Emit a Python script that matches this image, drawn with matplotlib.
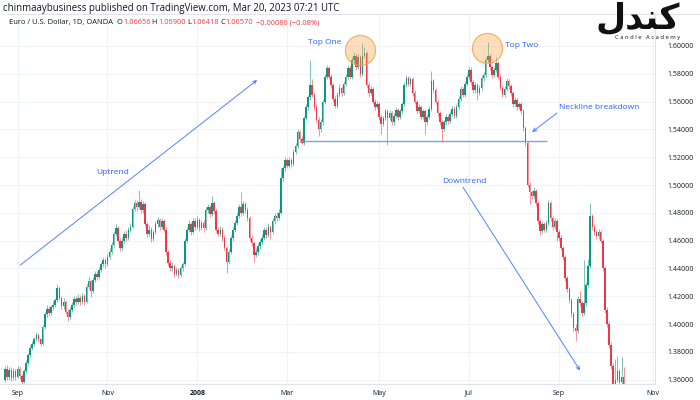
import numpy as np
import matplotlib.pyplot as plt

# EUR/USD daily candles, late Aug 2007 .. mid Oct 2008
opens = [
    1.3595, 1.3680, 1.3620, 1.3670, 1.3610, 1.3660, 1.3620, 1.3680, 1.3625, 1.3585,
    1.3660, 1.3720, 1.3780, 1.3830, 1.3860, 1.3890, 1.3920, 1.3890, 1.3860, 1.3980,
    1.4070, 1.4110, 1.4080, 1.4120, 1.4140, 1.4170, 1.4260, 1.4190, 1.4130, 1.4160,
    1.4090, 1.4050, 1.4100, 1.4140, 1.4180, 1.4160, 1.4190, 1.4160, 1.4200, 1.4160,
    1.4270, 1.4310, 1.4240, 1.4320, 1.4360, 1.4340, 1.4390, 1.4430, 1.4460, 1.4430,
    1.4480, 1.4520, 1.4570, 1.4650, 1.4690, 1.4600, 1.4550, 1.4600, 1.4650, 1.4620,
    1.4680, 1.4700, 1.4830, 1.4870, 1.4840, 1.4880, 1.4820, 1.4860, 1.4720, 1.4650,
    1.4680, 1.4610, 1.4660, 1.4720, 1.4750, 1.4700, 1.4740, 1.4680, 1.4520, 1.4440,
    1.4400, 1.4420, 1.4360, 1.4390, 1.4350, 1.4400, 1.4430, 1.4600, 1.4680, 1.4720,
    1.4660, 1.4740, 1.4700, 1.4750, 1.4690, 1.4730, 1.4690, 1.4820, 1.4840, 1.4790,
    1.4870, 1.4810, 1.4680, 1.4650, 1.4680, 1.4620, 1.4550, 1.4450, 1.4520, 1.4620,
    1.4680, 1.4730, 1.4780, 1.4840, 1.4800, 1.4860, 1.4820, 1.4760, 1.4620, 1.4580,
    1.4500, 1.4520, 1.4560, 1.4590, 1.4620, 1.4680, 1.4640, 1.4700, 1.4660, 1.4740,
    1.4780, 1.4760, 1.4800, 1.5050, 1.5120, 1.5180, 1.5140, 1.5180, 1.5150, 1.5240,
    1.5280, 1.5380, 1.5330, 1.5300, 1.5480, 1.5560, 1.5630, 1.5720, 1.5650, 1.5560,
    1.5470, 1.5400, 1.5450, 1.5600, 1.5780, 1.5840, 1.5780, 1.5720, 1.5620, 1.5570,
    1.5650, 1.5700, 1.5660, 1.5730, 1.5780, 1.5840, 1.5780, 1.5900, 1.5930, 1.5850,
    1.5920, 1.5800, 1.5930, 1.5950, 1.5720, 1.5660, 1.5690, 1.5600, 1.5560, 1.5580,
    1.5490, 1.5440, 1.5480, 1.5530, 1.5480, 1.5520, 1.5450, 1.5500, 1.5540, 1.5490,
    1.5530, 1.5580, 1.5720, 1.5770, 1.5730, 1.5760, 1.5660, 1.5600, 1.5530, 1.5560,
    1.5490, 1.5530, 1.5450, 1.5490, 1.5550, 1.5750, 1.5680, 1.5600, 1.5520, 1.5450,
    1.5400, 1.5450, 1.5490, 1.5460, 1.5510, 1.5550, 1.5500, 1.5560, 1.5620, 1.5690,
    1.5650, 1.5730, 1.5780, 1.5830, 1.5740, 1.5680, 1.5720, 1.5660, 1.5700, 1.5770,
    1.5790, 1.5900, 1.5930, 1.5850, 1.5790, 1.5830, 1.5880, 1.5780, 1.5700, 1.5650,
    1.5690, 1.5750, 1.5710, 1.5660, 1.5580, 1.5610, 1.5560, 1.5580, 1.5530, 1.5410,
    1.5300, 1.5000, 1.4950, 1.4920, 1.4960, 1.4870, 1.4740, 1.4670, 1.4720, 1.4680,
    1.4730, 1.4870, 1.4760, 1.4700, 1.4740, 1.4660, 1.4620, 1.4550, 1.4480, 1.4330,
    1.4250, 1.4170, 1.4070, 1.3970, 1.3950, 1.4180, 1.4150, 1.4080, 1.4150, 1.4280,
    1.4420, 1.4780, 1.4700, 1.4660, 1.4630, 1.4660, 1.4600, 1.4400, 1.4100, 1.4000,
    1.3850, 1.3700, 1.3550, 1.3600, 1.3660, 1.3580, 1.3620,
]
highs = [
    1.3700, 1.3705, 1.3690, 1.3690, 1.3685, 1.3680, 1.3700, 1.3695, 1.3640, 1.3675,
    1.3740, 1.3795, 1.3850, 1.3880, 1.3910, 1.3940, 1.3935, 1.3900, 1.3995, 1.4085,
    1.4135, 1.4130, 1.4140, 1.4165, 1.4190, 1.4285, 1.4275, 1.4205, 1.4185, 1.4175,
    1.4110, 1.4120, 1.4160, 1.4200, 1.4205, 1.4215, 1.4210, 1.4225, 1.4215, 1.4290,
    1.4335, 1.4320, 1.4340, 1.4380, 1.4385, 1.4410, 1.4450, 1.4485, 1.4475, 1.4505,
    1.4545, 1.4590, 1.4670, 1.4720, 1.4705, 1.4620, 1.4625, 1.4670, 1.4675, 1.4700,
    1.4725, 1.4850, 1.4895, 1.4890, 1.4966, 1.4900, 1.4885, 1.4875, 1.4735, 1.4710,
    1.4695, 1.4680, 1.4740, 1.4770, 1.4765, 1.4760, 1.4755, 1.4695, 1.4535, 1.4460,
    1.4445, 1.4435, 1.4410, 1.4405, 1.4420, 1.4450, 1.4620, 1.4700, 1.4745, 1.4735,
    1.4765, 1.4760, 1.4775, 1.4765, 1.4750, 1.4745, 1.4840, 1.4865, 1.4855, 1.4920,
    1.4885, 1.4825, 1.4700, 1.4705, 1.4695, 1.4640, 1.4565, 1.4540, 1.4640, 1.4700,
    1.4750, 1.4805, 1.4860, 1.4950, 1.4885, 1.4875, 1.4840, 1.4775, 1.4640, 1.4595,
    1.4545, 1.4580, 1.4610, 1.4645, 1.4700, 1.4695, 1.4725, 1.4715, 1.4760, 1.4800,
    1.4805, 1.4825, 1.5120, 1.5140, 1.5200, 1.5195, 1.5205, 1.5195, 1.5260, 1.5305,
    1.5400, 1.5395, 1.5350, 1.5500, 1.5580, 1.5650, 1.5900, 1.5760, 1.5670, 1.5580,
    1.5490, 1.5475, 1.5620, 1.5800, 1.5860, 1.5855, 1.5800, 1.5735, 1.5640, 1.5670,
    1.5725, 1.5715, 1.5750, 1.5800, 1.5860, 1.5855, 1.5920, 1.5955, 1.5945, 1.5940,
    1.5935, 1.6020, 1.5990, 1.5965, 1.5740, 1.5715, 1.5705, 1.5620, 1.5605, 1.5595,
    1.5510, 1.5500, 1.5550, 1.5545, 1.5540, 1.5535, 1.5520, 1.5560, 1.5555, 1.5550,
    1.5600, 1.5740, 1.5790, 1.5785, 1.5780, 1.5775, 1.5680, 1.5615, 1.5580, 1.5575,
    1.5550, 1.5545, 1.5510, 1.5570, 1.5820, 1.5765, 1.5695, 1.5615, 1.5535, 1.5470,
    1.5470, 1.5510, 1.5505, 1.5530, 1.5570, 1.5565, 1.5580, 1.5640, 1.5710, 1.5705,
    1.5750, 1.5800, 1.5850, 1.5850, 1.5755, 1.5740, 1.5735, 1.5720, 1.5790, 1.5815,
    1.5920, 1.6030, 1.5945, 1.5865, 1.5850, 1.5920, 1.5895, 1.5795, 1.5715, 1.5710,
    1.5770, 1.5765, 1.5725, 1.5675, 1.5630, 1.5625, 1.5600, 1.5595, 1.5545, 1.5425,
    1.5315, 1.5020, 1.4965, 1.4985, 1.4975, 1.4885, 1.4755, 1.4740, 1.4735, 1.4750,
    1.4890, 1.4885, 1.4775, 1.4760, 1.4755, 1.4680, 1.4640, 1.4565, 1.4500, 1.4345,
    1.4265, 1.4185, 1.4085, 1.4000, 1.4200, 1.4240, 1.4165, 1.4460, 1.4300, 1.4470,
    1.4870, 1.4795, 1.4720, 1.4675, 1.4685, 1.4675, 1.4615, 1.4420, 1.4120, 1.4020,
    1.3870, 1.3720, 1.3750, 1.3770, 1.3680, 1.3760, 1.3690,
]
lows = [
    1.3580, 1.3600, 1.3600, 1.3590, 1.3595, 1.3600, 1.3610, 1.3605, 1.3570, 1.3575,
    1.3650, 1.3705, 1.3765, 1.3810, 1.3840, 1.3875, 1.3870, 1.3840, 1.3850, 1.3965,
    1.4050, 1.4060, 1.4065, 1.4100, 1.4120, 1.4160, 1.4175, 1.4110, 1.4110, 1.4070,
    1.4025, 1.4035, 1.4085, 1.4125, 1.4140, 1.4145, 1.4140, 1.4145, 1.4135, 1.4150,
    1.4255, 1.4195, 1.4225, 1.4300, 1.4320, 1.4325, 1.4375, 1.4410, 1.4405, 1.4415,
    1.4465, 1.4505, 1.4555, 1.4630, 1.4580, 1.4525, 1.4535, 1.4585, 1.4600, 1.4605,
    1.4660, 1.4690, 1.4810, 1.4815, 1.4825, 1.4800, 1.4800, 1.4705, 1.4625, 1.4630,
    1.4590, 1.4595, 1.4645, 1.4700, 1.4680, 1.4685, 1.4660, 1.4500, 1.4420, 1.4380,
    1.4385, 1.4335, 1.4345, 1.4330, 1.4340, 1.4385, 1.4420, 1.4585, 1.4665, 1.4640,
    1.4645, 1.4680, 1.4685, 1.4670, 1.4675, 1.4665, 1.4680, 1.4800, 1.4770, 1.4775,
    1.4790, 1.4660, 1.4630, 1.4635, 1.4600, 1.4530, 1.4370, 1.4430, 1.4505, 1.4600,
    1.4660, 1.4715, 1.4765, 1.4780, 1.4785, 1.4800, 1.4740, 1.4600, 1.4560, 1.4450,
    1.4480, 1.4500, 1.4540, 1.4575, 1.4605, 1.4620, 1.4625, 1.4610, 1.4645, 1.4720,
    1.4740, 1.4745, 1.4790, 1.5030, 1.5100, 1.5120, 1.5125, 1.5130, 1.5140, 1.5225,
    1.5265, 1.5310, 1.5295, 1.5290, 1.5465, 1.5540, 1.5610, 1.5630, 1.5540, 1.5450,
    1.5350, 1.5380, 1.5435, 1.5585, 1.5765, 1.5760, 1.5700, 1.5600, 1.5555, 1.5555,
    1.5630, 1.5640, 1.5645, 1.5715, 1.5765, 1.5760, 1.5765, 1.5880, 1.5830, 1.5835,
    1.5780, 1.5785, 1.5910, 1.5700, 1.5640, 1.5645, 1.5580, 1.5540, 1.5545, 1.5470,
    1.5370, 1.5425, 1.5465, 1.5290, 1.5465, 1.5430, 1.5435, 1.5485, 1.5470, 1.5475,
    1.5515, 1.5565, 1.5705, 1.5710, 1.5715, 1.5640, 1.5580, 1.5510, 1.5515, 1.5470,
    1.5475, 1.5370, 1.5435, 1.5475, 1.5535, 1.5660, 1.5580, 1.5500, 1.5430, 1.5310,
    1.5385, 1.5435, 1.5440, 1.5445, 1.5495, 1.5480, 1.5485, 1.5545, 1.5605, 1.5630,
    1.5635, 1.5715, 1.5765, 1.5720, 1.5660, 1.5665, 1.5610, 1.5645, 1.5685, 1.5750,
    1.5775, 1.5885, 1.5830, 1.5770, 1.5775, 1.5815, 1.5760, 1.5680, 1.5630, 1.5635,
    1.5675, 1.5690, 1.5640, 1.5560, 1.5565, 1.5540, 1.5545, 1.5510, 1.5390, 1.5280,
    1.4985, 1.4860, 1.4900, 1.4905, 1.4850, 1.4720, 1.4640, 1.4655, 1.4660, 1.4665,
    1.4715, 1.4740, 1.4680, 1.4685, 1.4600, 1.4600, 1.4530, 1.4460, 1.4310, 1.4230,
    1.4150, 1.4050, 1.3950, 1.3880, 1.3935, 1.4130, 1.4060, 1.4065, 1.4130, 1.4265,
    1.4405, 1.4680, 1.4640, 1.4610, 1.4615, 1.4580, 1.4380, 1.4080, 1.3980, 1.3830,
    1.3680, 1.3500, 1.3520, 1.3580, 1.3540, 1.3560, 1.3500,
]
closes = [
    1.3680, 1.3620, 1.3670, 1.3610, 1.3660, 1.3620, 1.3680, 1.3625, 1.3585, 1.3660,
    1.3720, 1.3780, 1.3830, 1.3860, 1.3890, 1.3920, 1.3890, 1.3860, 1.3980, 1.4070,
    1.4110, 1.4080, 1.4120, 1.4140, 1.4170, 1.4260, 1.4190, 1.4130, 1.4160, 1.4090,
    1.4050, 1.4100, 1.4140, 1.4180, 1.4160, 1.4190, 1.4160, 1.4200, 1.4160, 1.4270,
    1.4310, 1.4240, 1.4320, 1.4360, 1.4340, 1.4390, 1.4430, 1.4460, 1.4430, 1.4480,
    1.4520, 1.4570, 1.4650, 1.4690, 1.4600, 1.4550, 1.4600, 1.4650, 1.4620, 1.4680,
    1.4700, 1.4830, 1.4870, 1.4840, 1.4880, 1.4820, 1.4860, 1.4720, 1.4650, 1.4680,
    1.4610, 1.4660, 1.4720, 1.4750, 1.4700, 1.4740, 1.4680, 1.4520, 1.4440, 1.4400,
    1.4420, 1.4360, 1.4390, 1.4350, 1.4400, 1.4430, 1.4600, 1.4680, 1.4720, 1.4660,
    1.4740, 1.4700, 1.4750, 1.4690, 1.4730, 1.4690, 1.4820, 1.4840, 1.4790, 1.4870,
    1.4810, 1.4680, 1.4650, 1.4680, 1.4620, 1.4550, 1.4450, 1.4520, 1.4620, 1.4680,
    1.4730, 1.4780, 1.4840, 1.4800, 1.4860, 1.4820, 1.4760, 1.4620, 1.4580, 1.4500,
    1.4520, 1.4560, 1.4590, 1.4620, 1.4680, 1.4640, 1.4700, 1.4660, 1.4740, 1.4780,
    1.4760, 1.4800, 1.5050, 1.5120, 1.5180, 1.5140, 1.5180, 1.5150, 1.5240, 1.5280,
    1.5380, 1.5330, 1.5300, 1.5480, 1.5560, 1.5630, 1.5720, 1.5650, 1.5560, 1.5470,
    1.5400, 1.5450, 1.5600, 1.5780, 1.5840, 1.5780, 1.5720, 1.5620, 1.5570, 1.5650,
    1.5700, 1.5660, 1.5730, 1.5780, 1.5840, 1.5780, 1.5900, 1.5930, 1.5850, 1.5920,
    1.5800, 1.5930, 1.5950, 1.5720, 1.5660, 1.5690, 1.5600, 1.5560, 1.5580, 1.5490,
    1.5440, 1.5480, 1.5530, 1.5480, 1.5520, 1.5450, 1.5500, 1.5540, 1.5490, 1.5530,
    1.5580, 1.5720, 1.5770, 1.5730, 1.5760, 1.5660, 1.5600, 1.5530, 1.5560, 1.5490,
    1.5530, 1.5450, 1.5490, 1.5550, 1.5750, 1.5680, 1.5600, 1.5520, 1.5450, 1.5400,
    1.5450, 1.5490, 1.5460, 1.5510, 1.5550, 1.5500, 1.5560, 1.5620, 1.5690, 1.5650,
    1.5730, 1.5780, 1.5830, 1.5740, 1.5680, 1.5720, 1.5660, 1.5700, 1.5770, 1.5790,
    1.5900, 1.5930, 1.5850, 1.5790, 1.5830, 1.5880, 1.5780, 1.5700, 1.5650, 1.5690,
    1.5750, 1.5710, 1.5660, 1.5580, 1.5610, 1.5560, 1.5580, 1.5530, 1.5410, 1.5300,
    1.5000, 1.4950, 1.4920, 1.4960, 1.4870, 1.4740, 1.4670, 1.4720, 1.4680, 1.4730,
    1.4870, 1.4760, 1.4700, 1.4740, 1.4660, 1.4620, 1.4550, 1.4480, 1.4330, 1.4250,
    1.4170, 1.4070, 1.3970, 1.3950, 1.4180, 1.4150, 1.4080, 1.4150, 1.4280, 1.4420,
    1.4780, 1.4700, 1.4660, 1.4630, 1.4660, 1.4600, 1.4400, 1.4100, 1.4000, 1.3850,
    1.3700, 1.3550, 1.3600, 1.3660, 1.3580, 1.3620, 1.3550,
]

# x axis month labels (bar index of first trading day)
month_pos = [6, 49, 92, 135, 179, 222, 265, 310]
month_labels = ['Sep', 'Nov', '2008', 'Mar', 'May', 'Jul', 'Sep', 'Nov']
price_ticks = [1.36, 1.38, 1.40, 1.42, 1.44, 1.46, 1.48, 1.50, 1.52, 1.54, 1.56, 1.58, 1.60]

neckline = 1.5316
top_one = (169.9, 1.5971)
top_two = (230.6, 1.5986)

UP = '#089981'
DOWN = '#f23645'
BLUE = '#2962ff'
INK = '#131722'
W, H = 700, 400

plt.rcParams['font.family'] = ['Open Sans', 'DejaVu Sans']

fig = plt.figure(figsize=(7, 4), dpi=100)
ax = fig.add_axes([0, 16 / H, 655 / W, 370 / H])
ax.set_xlim(-2.4, 311)
ax.set_ylim(1.3569, 1.6230)

o = np.array(opens)
h = np.array(highs)
l = np.array(lows)
c = np.array(closes)
idx = np.arange(len(c))
cols = np.where(c >= o, UP, DOWN)

# wicks then bodies
ax.vlines(idx, l, h, colors=cols, lw=0.7, alpha=0.55, zorder=2)
body = np.maximum(np.abs(c - o), 0.0003)
ax.bar(idx, body, bottom=np.minimum(o, c), width=0.75, color=cols, lw=0, zorder=2)

# grid / axes
ax.set_xticks(month_pos)
ax.set_xticklabels(month_labels)
for t in ax.get_xticklabels():
    if t.get_text() == '2008':
        t.set_fontweight('bold')
ax.set_yticks(price_ticks)
ax.set_yticklabels(['%.5f' % p for p in price_ticks])
ax.yaxis.tick_right()
ax.tick_params(axis='both', length=0, labelsize=5, colors=INK)
ax.tick_params(axis='y', pad=9)
ax.tick_params(axis='x', pad=4)
ax.grid(True, color='#f0f3fa', lw=0.8, zorder=0)
ax.set_axisbelow(True)
for s in ['top', 'left']:
    ax.spines[s].set_visible(False)
for s in ['right', 'bottom']:
    ax.spines[s].set_color('#e0e3eb')
    ax.spines[s].set_linewidth(0.8)

# drawings on the chart
ax.hlines(neckline, 141.1, 259.3, color='#7f9fe6', lw=1.0, zorder=3)
ax.scatter([top_one[0], top_two[0]], [top_one[1], top_two[1]], s=470,
           facecolor=(0.98, 0.62, 0.25, 0.35), edgecolor=(0.96, 0.65, 0.3, 0.9),
           lw=0.8, zorder=4)
arrow = dict(arrowstyle='->', color=BLUE, lw=0.7, shrinkA=0, shrinkB=0,
             mutation_scale=6, alpha=0.8)
ax.annotate('', xy=(120.6, 1.5755), xytext=(7.2, 1.4423), arrowprops=arrow)
ax.annotate('', xy=(252.2, 1.5381), xytext=(264.1, 1.5518), arrowprops=arrow)
ax.annotate('', xy=(275.1, 1.3667), xytext=(219.1, 1.4985), arrowprops=arrow)
lbl = dict(color=BLUE, fontsize=6, ha='center', va='center')
ax.text(51.7, 1.5093, 'Uptrend', **lbl)
ax.text(153.0, 1.6022, 'Top One', **lbl)
ax.text(247.4, 1.6007, 'Top Two', **lbl)
ax.text(284.2, 1.5561, 'Neckline breakdown', **lbl)
ax.text(219.6, 1.5028, 'Downtrend', **lbl)

# header
fig.text(3 / W, 1 - 8 / H, 'chinmaaybusiness published on TradingView.com, Mar 20, 2023 07:21 UTC',
         fontsize=6.9, color=INK, va='center')
fig.add_artist(plt.Line2D([8 / W, 1], [1 - 14 / H, 1 - 14 / H], color='#e0e3eb', lw=0.8))

parts = [('Euro / U.S. Dollar, 1D, OANDA  O', INK), ('1.06656', DOWN), (' H', INK),
         ('1.06900', DOWN), (' L', INK), ('1.06418', DOWN), (' C', INK),
         ('1.06570', DOWN), (' \u22120.00086 (\u22120.08%)', DOWN)]
prev = fig.text(9 / W, 1 - 26 / H, parts[0][0], fontsize=5.4, color=parts[0][1],
                va='bottom')
for txt, col in parts[1:]:
    # each piece starts where the previous one ends
    prev = ax.annotate(txt, xy=(1, 0), xycoords=prev, fontsize=5.4, color=col,
                       va='bottom', annotation_clip=False)

# logo
fig.text(638 / W, 1 - 19 / H, '\uFEDD\uFEAA\uFEE8\uFB90', fontsize=25, fontweight='bold',
         color='#111111', ha='center', va='center', family=['DejaVu Sans'])
fig.text(648 / W, 1 - 37 / H, 'C a n d l e   A c a d e m y', fontsize=4.2,
         color='#111111', ha='center', va='center')

fig.savefig('out.png', dpi=100)
